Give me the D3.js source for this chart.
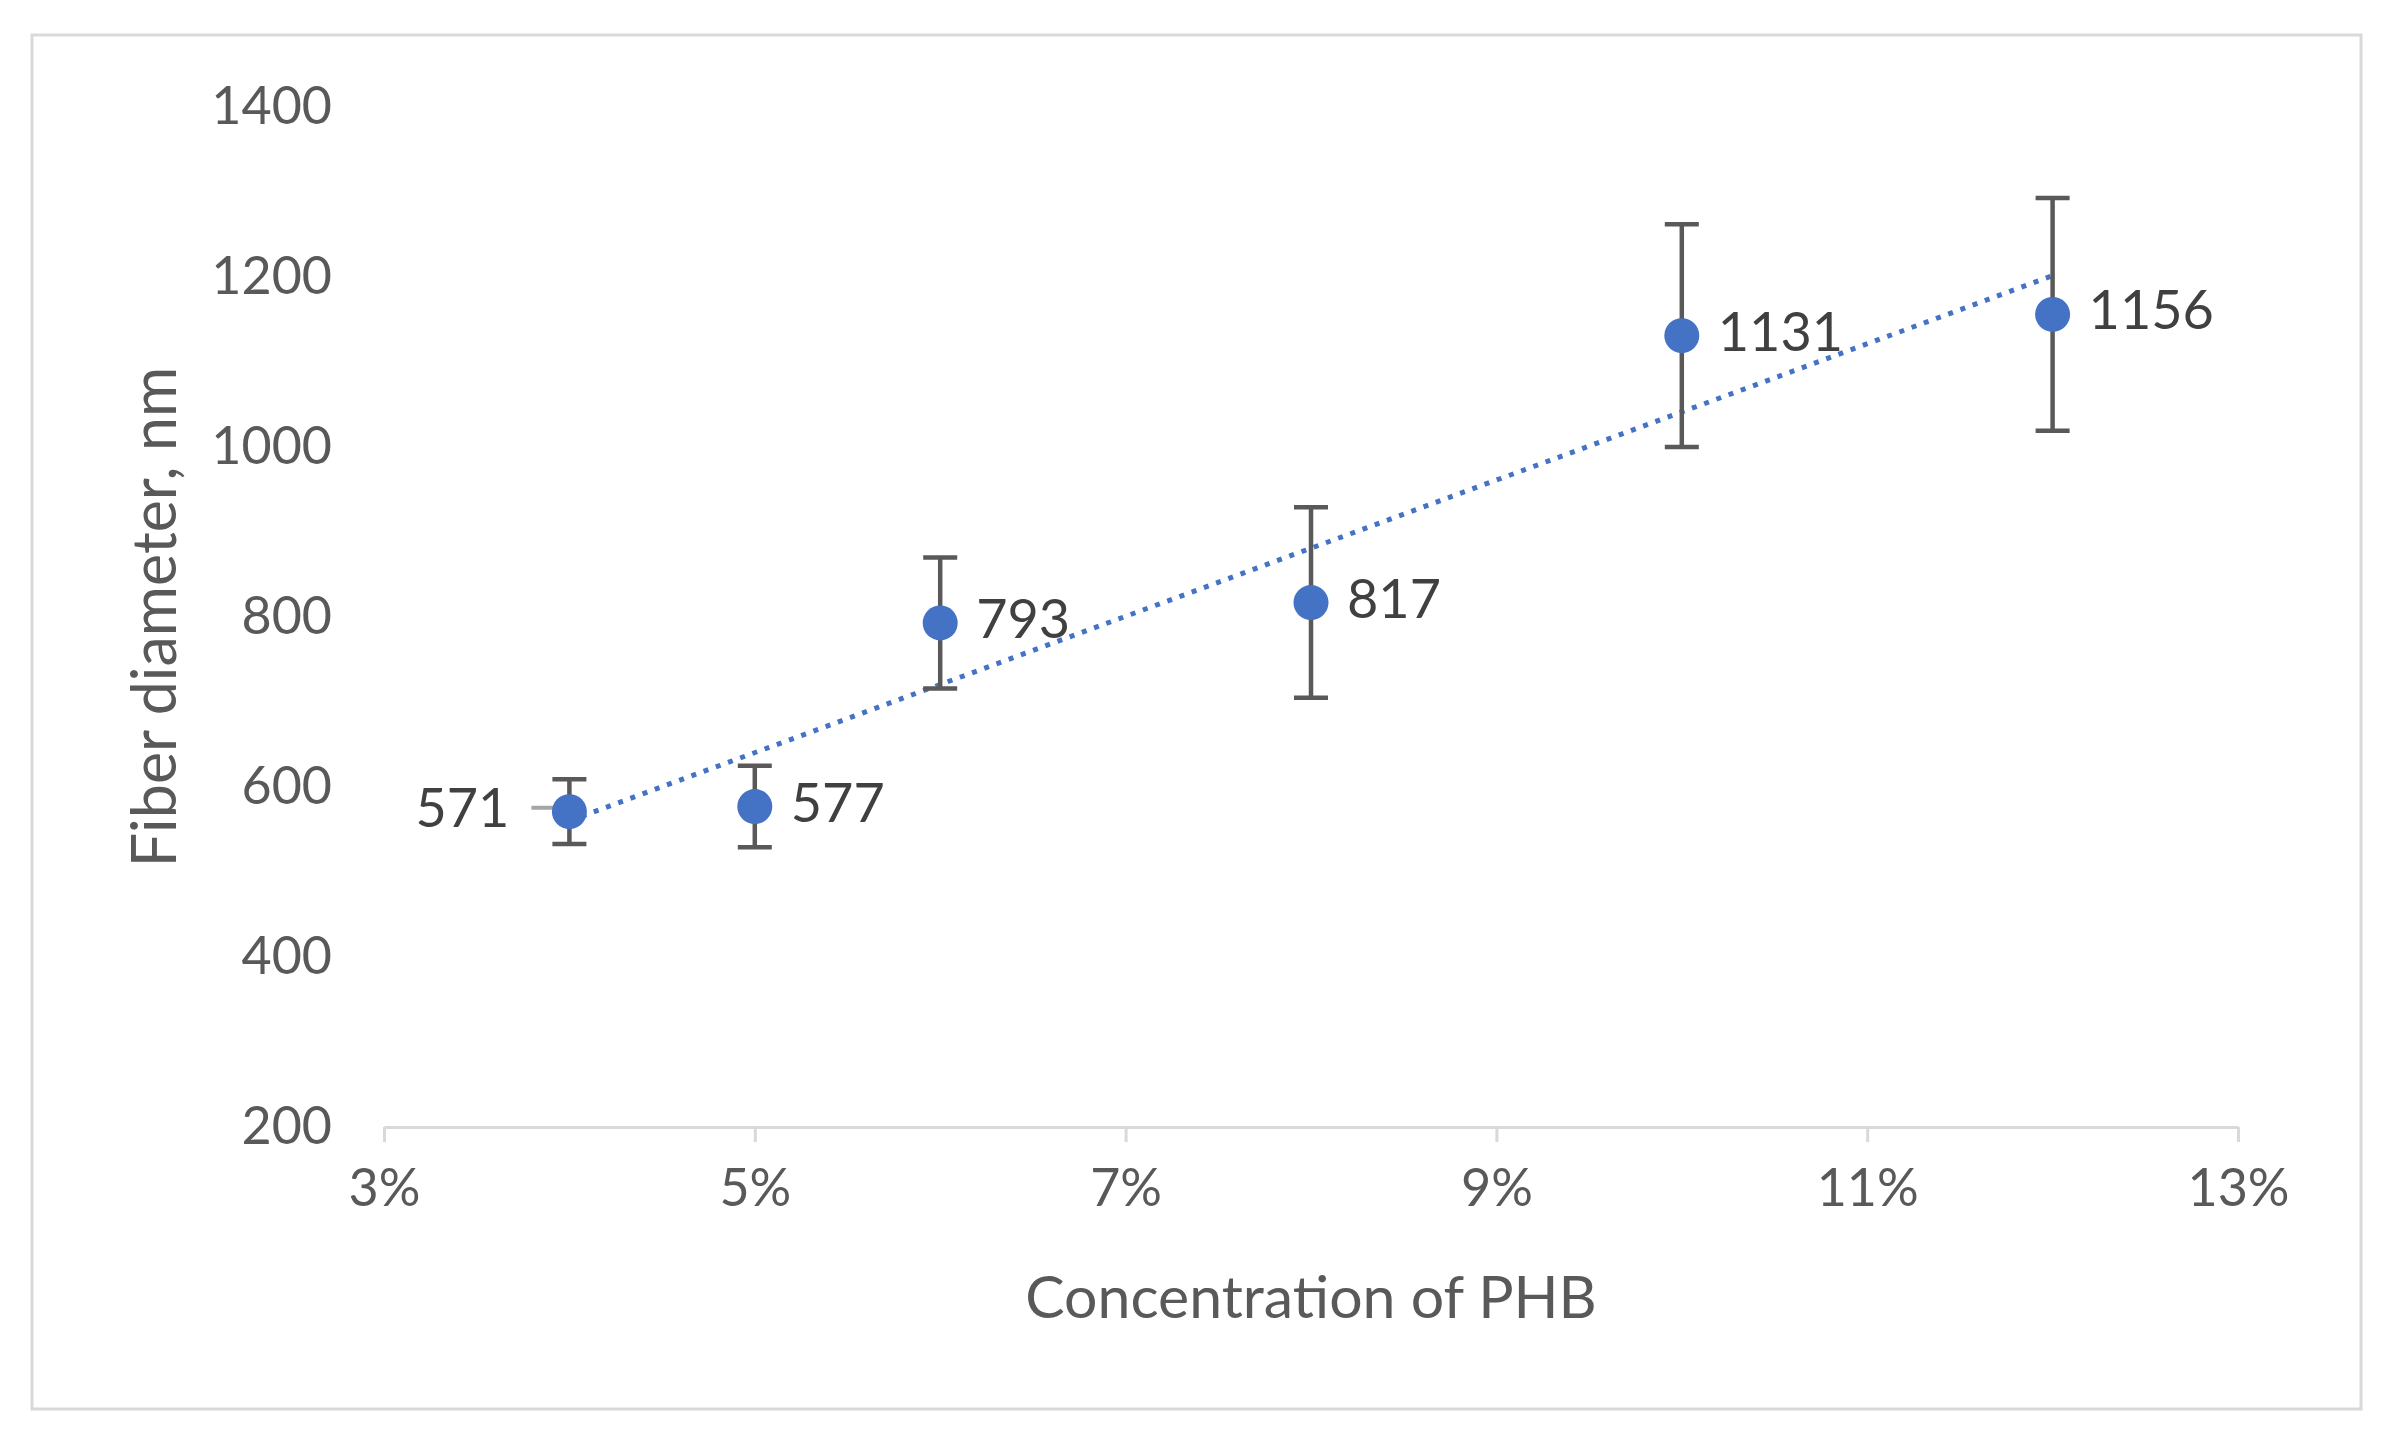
<!DOCTYPE html>
<html>
<head>
<meta charset="utf-8">
<script src="https://cdn.jsdelivr.net/npm/d3@7"></script>
<style>
	body { margin: 0; background: #fff; }
	svg text { font-family: Lato, "Open Sans", sans-serif; }
</style>
</head>
<body>
<div id="chart"></div>
<script>
// PHB concentration vs fiber diameter
var concentrations = [0.04, 0.05, 0.06, 0.08, 0.10, 0.12];
var diameters = [571, 577, 793, 817, 1131, 1156];
var errors = [38, 48, 77, 112, 131, 137];
var xTicks = [0.03, 0.05, 0.07, 0.09, 0.11, 0.13];
var yTicks = [200, 400, 600, 800, 1000, 1200, 1400];

var width = 2393;
var height = 1440;
var textColor = '#595959';
var blue = '#4472C4';

var svg = d3.select('#chart')
	.append('svg')
		.attr('width', width)
		.attr('height', height);

// outer chart border
svg.append('rect')
	.attr('x', 32)
	.attr('y', 35)
	.attr('width', 2329)
	.attr('height', 1374)
	.attr('fill', '#fff')
	.attr('stroke', '#D9D9D9')
	.attr('stroke-width', 3);

var x = d3.scaleLinear().domain([0.03, 0.13]).range([384, 2238]);
var y = d3.scaleLinear().domain([200, 1400]).range([1127, 107]);

// y axis: labels only
var yAxis = svg.append('g')
	.attr('transform', 'translate(' + x(0.03) + ',0)')
	.call(d3.axisLeft(y).tickValues(yTicks).tickFormat(d3.format('d')).tickSize(0).tickPadding(52));
yAxis.select('.domain').remove();
yAxis.selectAll('text')
	.attr('fill', textColor)
	.attr('font-size', 52);

// x axis
var xAxis = svg.append('g')
	.attr('transform', 'translate(0,' + y(200) + ')')
	.call(d3.axisBottom(x).tickValues(xTicks).tickFormat(d3.format('.0%')).tickSize(15).tickSizeOuter(0).tickPadding(27));
xAxis.select('.domain')
	.attr('stroke', '#D9D9D9')
	.attr('stroke-width', 3);
xAxis.selectAll('.tick line')
	.attr('stroke', '#D9D9D9')
	.attr('stroke-width', 3);
xAxis.selectAll('text')
	.attr('fill', textColor)
	.attr('font-size', 52);

// axis titles
svg.append('text')
	.attr('x', (x(0.03) + x(0.13)) / 2)
	.attr('y', 1318)
	.attr('text-anchor', 'middle')
	.attr('fill', textColor)
	.attr('font-size', 59)
	.text('Concentration of PHB');

svg.append('text')
	.attr('transform', 'translate(176,' + (y(200) + y(1400)) / 2 + ') rotate(-90)')
	.attr('text-anchor', 'middle')
	.attr('fill', textColor)
	.attr('font-size', 61)
	.text('Fiber diameter, nm');

var data = concentrations.map(function(c, i) { return {x: c, y: diameters[i], e: errors[i]}; });

// linear trendline (least squares on the series)
var mx = d3.mean(concentrations), my = d3.mean(diameters);
var sxy = d3.sum(data, function(d) { return (d.x - mx) * (d.y - my); });
var sxx = d3.sum(data, function(d) { return (d.x - mx) * (d.x - mx); });
var slope = sxy / sxx;
var x0 = d3.min(concentrations), x1 = d3.max(concentrations);
svg.append('line')
	.attr('x1', x(x0))
	.attr('y1', y(my + slope * (x0 - mx)))
	.attr('x2', x(x1))
	.attr('y2', y(my + slope * (x1 - mx)))
	.attr('stroke', blue)
	.attr('stroke-width', 5)
	.attr('stroke-dasharray', '5,8');

// error bars
var bars = svg.selectAll('g.err')
	.data(data)
	.enter().append('g')
		.attr('class', 'err')
		.attr('stroke', '#595959')
		.attr('stroke-width', 4.5);
bars.append('line')
	.attr('x1', function(d) { return x(d.x); })
	.attr('x2', function(d) { return x(d.x); })
	.attr('y1', function(d) { return y(d.y + d.e); })
	.attr('y2', function(d) { return y(d.y - d.e); });
bars.append('line')
	.attr('x1', function(d) { return x(d.x) - 17; })
	.attr('x2', function(d) { return x(d.x) + 17; })
	.attr('y1', function(d) { return y(d.y + d.e); })
	.attr('y2', function(d) { return y(d.y + d.e); });
bars.append('line')
	.attr('x1', function(d) { return x(d.x) - 17; })
	.attr('x2', function(d) { return x(d.x) + 17; })
	.attr('y1', function(d) { return y(d.y - d.e); })
	.attr('y2', function(d) { return y(d.y - d.e); });

// leader line for the first label
svg.append('line')
	.attr('x1', x(data[0].x) - 38)
	.attr('x2', x(data[0].x))
	.attr('y1', y(data[0].y) - 4)
	.attr('y2', y(data[0].y) - 4)
	.attr('stroke', '#A6A6A6')
	.attr('stroke-width', 4);

// markers
svg.selectAll('circle.pt')
	.data(data)
	.enter().append('circle')
		.attr('class', 'pt')
		.attr('cx', function(d) { return x(d.x); })
		.attr('cy', function(d) { return y(d.y); })
		.attr('r', 17.5)
		.attr('fill', blue);

// data labels
svg.selectAll('text.lbl')
	.data(data)
	.enter().append('text')
		.attr('class', 'lbl')
		.attr('x', function(d, i) { return i == 0 ? x(d.x) - 60 : x(d.x) + 36; })
		.attr('y', function(d) { return y(d.y) + 15; })
		.attr('text-anchor', function(d, i) { return i == 0 ? 'end' : 'start'; })
		.attr('fill', '#404040')
		.attr('font-size', 54)
		.text(function(d) { return d.y; });
</script>
</body>
</html>
